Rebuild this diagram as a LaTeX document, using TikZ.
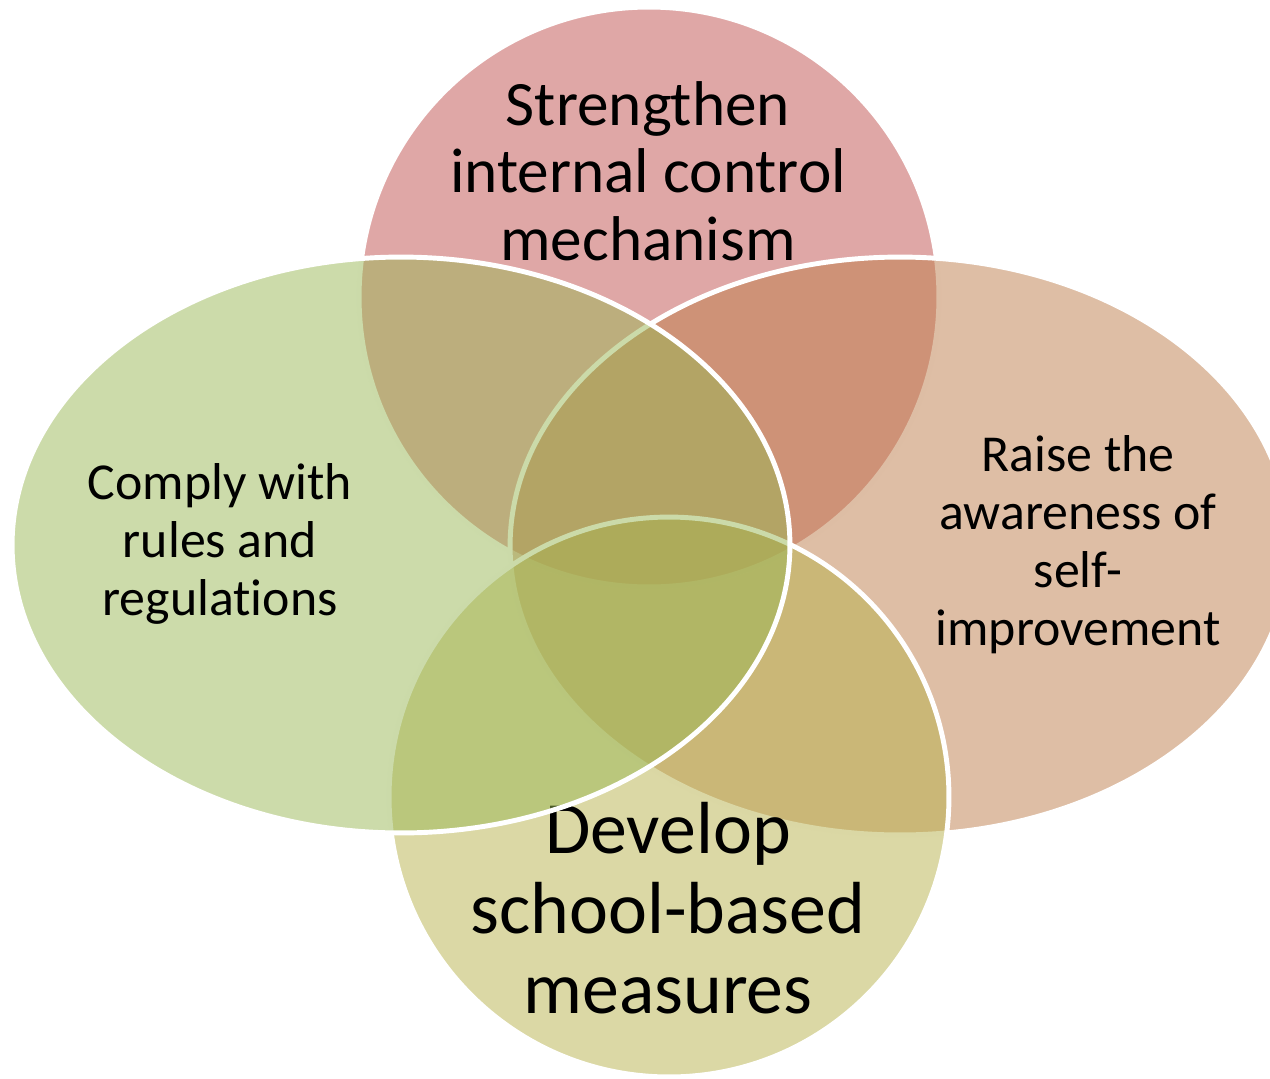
\documentclass[tikz,border=0pt]{standalone}
\usepackage{fontspec}
\setmainfont{Carlito}[Ligatures=NoCommon]

\definecolor{vennred}{RGB}{192,80,77}
\definecolor{venntan}{RGB}{189,125,75}
\definecolor{vennolive}{RGB}{183,177,75}
\definecolor{venngreen}{RGB}{153,183,85}

\begin{document}
\begin{tikzpicture}[x=0.02cm, y=-0.02cm,
    every node/.style={text=black, align=center, inner sep=0pt},
    blob/.style={draw=white, line width=2.8pt, fill opacity=0.5},
    bigtext/.style={font=\fontsize{36}{38.5}\selectfont},
    sidetext/.style={font=\fontsize{29.5}{33}\selectfont},
    foottext/.style={font=\fontsize{42}{45.5}\selectfont},
    ]
  \useasboundingbox (0,0) rectangle (1270,1078);

  % each set is filled, then its label, so later sets tint the earlier ones
  \path[blob, fill=vennred] (649,297) circle [radius=5.8cm];
  \node[bigtext] (control) at (648,171) {Strengthen\\internal control\\mechanism};

  \path[blob, fill=venntan] (900,546) ellipse [x radius=7.8cm, y radius=5.78cm];
  \node[sidetext] (awareness) at (1078,545) {Raise the\\awareness of\\self-\\improvement};

  \path[blob, fill=vennolive] (669,797) circle [radius=5.6cm];
  \node[foottext] (measures) at (668,908) {Develop\\school-based\\measures};

  \path[blob, fill=venngreen] (401,545) ellipse [x radius=7.78cm, y radius=5.76cm];
  \node[sidetext] (rules) at (220,544) {Comply with\\rules and\\regulations};

\end{tikzpicture}
\end{document}
